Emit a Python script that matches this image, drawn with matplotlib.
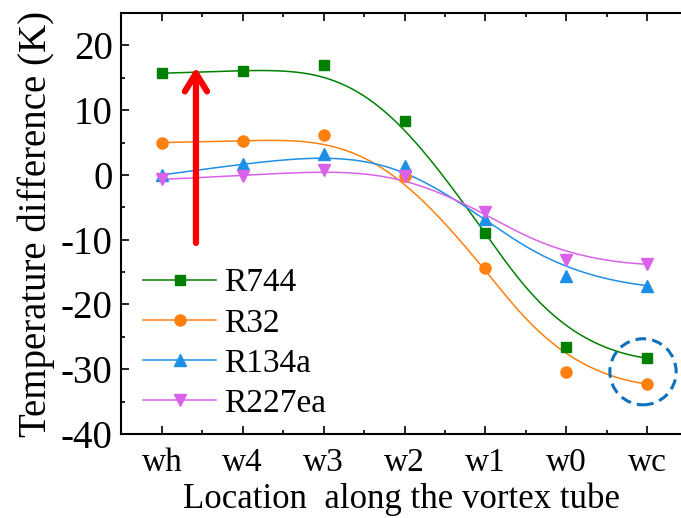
import numpy as np
import matplotlib.pyplot as plt
from matplotlib.lines import Line2D
from matplotlib.patches import Ellipse

plt.rcParams['font.family'] = ['Liberation Serif', 'DejaVu Serif']
plt.rcParams['axes.unicode_minus'] = False

# Data
locations = ["wh", "w4", "w3", "w2", "w1", "w0", "wc"]
r744 = [15.7, 16.1, 17.0, 8.3, -9.0, -26.5, -28.3]
r32 = [5.0, 5.2, 6.2, -0.2, -14.4, -30.5, -32.3]
r134a = [0.0, 1.7, 3.3, 1.3, -6.8, -15.6, -17.1]
r227ea = [-0.7, -0.1, 0.8, -0.2, -5.8, -13.1, -13.8]

series = [
    ("R744", r744, "#008000", "s", 6.5),
    ("R32", r32, "#FF800E", "o", 8),
    ("R134a", r134a, "#1E8FE6", "^", 8.5),
    ("R227ea", r227ea, "#DA62EA", "v", 8.5),
]


def bspline(px, py, num=300, k=3):
    # clamped cubic B-spline using the data points as control points
    px = np.asarray(px, float)
    py = np.asarray(py, float)
    m = len(px)
    knots = np.concatenate([np.zeros(k), np.arange(m - k + 1), np.full(k, m - k)])
    t = np.linspace(0, m - k, num)
    N = np.zeros((num, len(knots) - 1))
    for i in range(len(knots) - 1):
        N[:, i] = (t >= knots[i]) & (t < knots[i + 1])
    N[-1, m - 1] = 1
    for p in range(1, k + 1):
        newN = np.zeros((num, len(knots) - 1 - p))
        for i in range(len(knots) - 1 - p):
            d1 = knots[i + p] - knots[i]
            d2 = knots[i + p + 1] - knots[i + 1]
            a = (t - knots[i]) / d1 * N[:, i] if d1 > 0 else 0
            b = (knots[i + p + 1] - t) / d2 * N[:, i + 1] if d2 > 0 else 0
            newN[:, i] = a + b
        N = newN
    return N @ px, N @ py


fig = plt.figure(figsize=(6.81, 5.18), dpi=100)
ax = fig.add_axes([0.1777, 0.1622, 0.8223, 0.8127])

x = np.arange(len(locations))
handles = []
for name, vals, color, marker, ms in series:
    cx, cy = bspline(x, vals)
    ax.plot(cx, cy, color=color, lw=1.1, zorder=2)
    ax.plot(x, vals, linestyle="none", marker=marker, ms=ms, color=color, zorder=3)
    handles.append(Line2D([], [], color=color, lw=1.1, marker=marker, ms=ms))

# red arrow
ax.annotate("", xy=(0.42, 16.6), xytext=(0.42, -10.5),
            arrowprops=dict(arrowstyle="->,head_length=0.65,head_width=0.4",
                            color="#FF0000", lw=4.5, mutation_scale=20,
                            shrinkA=0, shrinkB=0, capstyle="round"))

# dashed circle around wc
ax.add_patch(Ellipse((5.95, -30.4), 0.82, 10.2, fill=False, edgecolor="#1070C0",
                     lw=2.2, linestyle=(0, (3.5, 2)), zorder=4))

ax.set_xlim(-0.507, 6.42)
ax.set_ylim(-40, 25)
ax.set_xticks(x)
ax.set_xticklabels(locations)
ax.set_xticks(x[:-1] + 0.5, minor=True)
ax.set_yticks(np.arange(-40, 21, 10))
ax.set_yticks(np.arange(-35, 21, 10), minor=True)

ax.spines["right"].set_visible(False)
for s in ["left", "bottom", "top"]:
    ax.spines[s].set_linewidth(1.5)

ax.tick_params(axis="y", which="major", direction="in", length=6, width=1.2, labelsize=28, pad=6)
ax.tick_params(axis="y", which="minor", direction="in", length=3, width=1.2)
ax.tick_params(axis="x", which="major", direction="in", length=6, width=1.2, labelsize=24,
               pad=10, top=True)
ax.tick_params(axis="x", which="minor", direction="in", length=3, width=1.2, top=True)

ax.set_ylabel("Temperature difference (K)", fontsize=28, labelpad=4)
ax.set_xlabel("Location  along the vortex tube", fontsize=25, labelpad=3)

ax.legend(handles, ["R744", "R32", "R134a", "R227ea"], loc="center left",
          bbox_to_anchor=(0.039, 0.215), frameon=False, fontsize=24,
          handlelength=2.2, handletextpad=0.25, labelspacing=0.29,
          borderpad=0, borderaxespad=0)

fig.savefig("out.png", dpi=100)
